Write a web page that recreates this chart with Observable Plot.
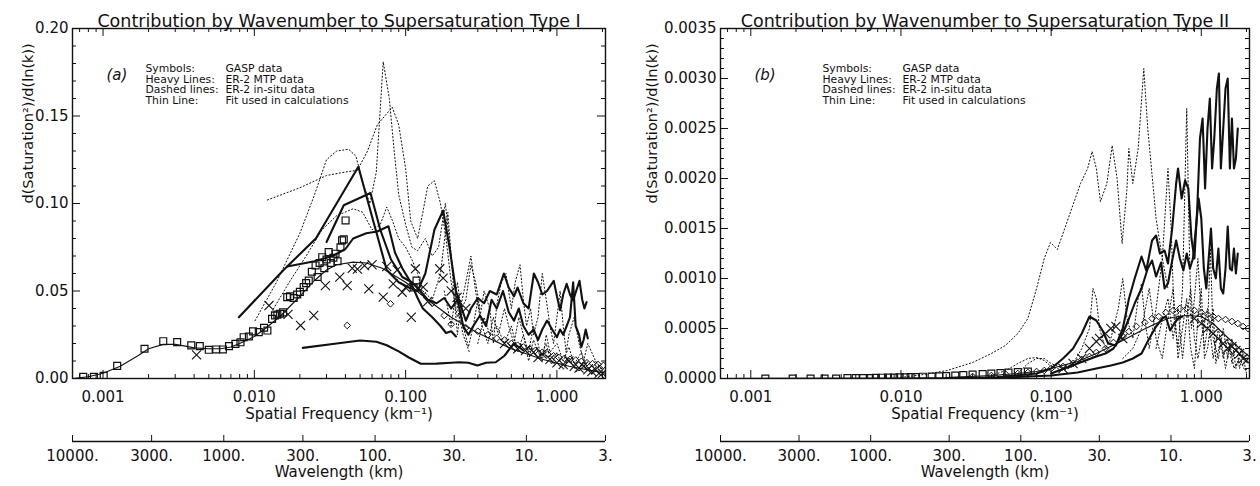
<!DOCTYPE html>
<html><head><meta charset="utf-8">
<script src="https://cdn.jsdelivr.net/npm/d3@7"></script>
<script src="https://cdn.jsdelivr.net/npm/@observablehq/plot@0.6"></script>
<style>
body{margin:0;background:#fff;}
#wrap{position:relative;width:1260px;height:486px;overflow:hidden;}
#wrap svg{position:absolute;}
</style></head><body><div id="wrap"></div>
<script>
// ---------- axis values ----------
const wavelengthTicks = [10000, 3000, 1000, 300, 100, 30, 10, 3];
const kMajor = [0.001, 0.01, 0.1, 1];
const kMinor = [0.0007,0.0008,0.0009,0.002,0.003,0.004,0.005,0.006,0.007,0.008,0.009,
  0.02,0.03,0.04,0.05,0.06,0.07,0.08,0.09,0.2,0.3,0.4,0.5,0.6,0.7,0.8,0.9,2];
const yMajorA = [0, 0.05, 0.10, 0.15, 0.20];
const yMinorA = [0.01,0.02,0.03,0.04,0.06,0.07,0.08,0.09,0.11,0.12,0.13,0.14,0.16,0.17,0.18,0.19];
const yMajorB = [0, 0.0005, 0.0010, 0.0015, 0.0020, 0.0025, 0.0030, 0.0035];
const yMinorB = [0.0001,0.0002,0.0003,0.0004,0.0006,0.0007,0.0008,0.0009,0.0011,0.0012,0.0013,0.0014,
  0.0016,0.0017,0.0018,0.0019,0.0021,0.0022,0.0023,0.0024,0.0026,0.0027,0.0028,0.0029,0.0031,0.0032,0.0033,0.0034];

const titleA = "Contribution by Wavenumber to Supersaturation Type I";
const titleB = "Contribution by Wavenumber to Supersaturation Type II";
const yLabel = "d(Saturation²)/d(ln(k))";
const xLabel = "Spatial Frequency (km⁻¹)";
const wlLabel = "Wavelength (km)";
const legendKeys = "Symbols:\nHeavy Lines:\nDashed lines:\nThin Line:";
const legendVals = "GASP data\nER-2 MTP data\nER-2 in-situ data\nFit used in calculations";

// ---------- panel (a) data: [k (km^-1), value] ----------
const squaresA = [[0.00074,0.001],[0.00087,0.001],[0.00101,0.0015],[0.00124,0.0072],[0.00188,0.017],[0.0025,0.0213],[0.00309,0.0208],[0.00383,0.0189],[0.00436,0.0185],[0.0050,0.0164],[0.0056,0.0166],[0.0062,0.0166],[0.0068,0.0185],[0.0075,0.0198],[0.0081,0.0207],[0.0085,0.0236],[0.0092,0.024],[0.0098,0.0269],[0.0107,0.0265],[0.0116,0.029],[0.0122,0.0274],[0.0131,0.0341],[0.0137,0.036],[0.0142,0.0365],[0.0148,0.037],[0.0155,0.0378],[0.0165,0.0465],[0.0172,0.047],[0.0182,0.046],[0.0192,0.048],[0.0200,0.0495],[0.0212,0.0522],[0.0220,0.0545],[0.0229,0.056],[0.0240,0.061],[0.0254,0.0646],[0.0262,0.058],[0.0270,0.066],[0.0281,0.0693],[0.0290,0.063],[0.0300,0.068],[0.0310,0.0722],[0.0320,0.066],[0.0333,0.069],[0.0344,0.0713],[0.0355,0.067],[0.0371,0.075],[0.0380,0.0789],[0.0390,0.0795],[0.0401,0.0903],[0.113,0.052],[0.118,0.056]];
const crossesA = [[0.00415,0.0135],[0.0125,0.0417],[0.0167,0.0366],[0.0202,0.0303],[0.0247,0.036],[0.0295,0.0531],[0.0367,0.0579],[0.0411,0.0531],[0.0444,0.063],[0.0480,0.0625],[0.0535,0.0645],[0.0571,0.0512],[0.0600,0.065],[0.0711,0.0465],[0.075,0.064],[0.0828,0.0541],[0.088,0.062],[0.0949,0.0493],[0.1,0.052],[0.109,0.035],[0.116,0.0627],[0.1306,0.0522],[0.14,0.044],[0.168,0.0627],[0.177,0.0574],[0.2,0.05],[0.219,0.0463],[0.25,0.04],[0.45,0.02],[0.5,0.018],[0.55,0.017],[0.62,0.016],[0.7,0.015],[0.75,0.012],[0.8,0.014],[0.9,0.011],[1.0,0.009],[1.1,0.008],[1.2,0.01],[1.3,0.007],[1.4,0.006],[1.5,0.007],[1.6,0.005],[1.7,0.004],[1.8,0.005],[1.9,0.003],[2.0,0.003]];
const diamondsA = [[0.0411,0.0303],[0.0794,0.0427],[0.15,0.043],[0.18,0.036],[0.2,0.031],[0.25,0.029],[0.3,0.027],[0.35,0.025],[0.4,0.023],[0.45,0.022],[0.5,0.02],[0.55,0.019],[0.6,0.018],[0.66,0.017],[0.72,0.016],[0.8,0.015],[0.87,0.014],[0.95,0.013],[1.03,0.012],[1.12,0.0115],[1.22,0.011],[1.33,0.0105],[1.45,0.0098],[1.58,0.009],[1.72,0.0085],[1.87,0.008],[2.03,0.0075]];
const fitA = [[0.00063,0.0],[0.0008,0.001],[0.001,0.003],[0.0013,0.007],[0.0017,0.013],[0.002,0.017],[0.0025,0.0195],[0.003,0.0195],[0.0035,0.0185],[0.004,0.0175],[0.005,0.017],[0.006,0.017],[0.007,0.018],[0.008,0.02],[0.01,0.024],[0.012,0.029],[0.015,0.036],[0.02,0.047],[0.025,0.056],[0.03,0.062],[0.035,0.065],[0.045,0.0665],[0.055,0.066],[0.07,0.063],[0.1,0.055],[0.15,0.043],[0.2,0.035],[0.3,0.026],[0.5,0.017],[0.8,0.011],[1.2,0.007],[2.09,0.003]];
const heavyA1 = [[0.0079,0.035],[0.0156,0.062],[0.0255,0.08],[0.0487,0.121],[0.062,0.088],[0.075,0.062],[0.09,0.055],[0.105,0.052],[0.12,0.05],[0.135,0.06],[0.155,0.085],[0.177,0.096],[0.195,0.075],[0.215,0.05],[0.235,0.04],[0.25,0.033],[0.27,0.04],[0.3,0.046],[0.33,0.043],[0.36,0.05],[0.4,0.048],[0.446,0.06],[0.48,0.052],[0.52,0.047],[0.55,0.052],[0.6,0.043],[0.65,0.04],[0.704,0.06],[0.75,0.055],[0.8,0.048],[0.86,0.05],[0.953,0.0558],[1.0,0.047],[1.05,0.039],[1.1,0.048],[1.16,0.0541],[1.22,0.048],[1.28,0.0446],[1.34,0.05],[1.41,0.0558],[1.47,0.045],[1.52,0.04],[1.57,0.0436]];
const heavyA2 = [[0.030,0.078],[0.039,0.099],[0.0586,0.106],[0.068,0.085],[0.08,0.068],[0.095,0.058],[0.11,0.055],[0.125,0.05],[0.14,0.045],[0.16,0.043],[0.18,0.046],[0.2,0.04],[0.22,0.045],[0.24,0.03],[0.26,0.025],[0.28,0.03],[0.31,0.036],[0.34,0.03],[0.37,0.045],[0.4,0.04],[0.44,0.05],[0.48,0.038],[0.52,0.033],[0.56,0.04],[0.6,0.03],[0.65,0.025],[0.7,0.028],[0.75,0.022],[0.8,0.028],[0.861,0.0331],[0.93,0.028],[1.0,0.0236],[1.05,0.028],[1.1,0.025],[1.16,0.03],[1.22,0.035],[1.28,0.055],[1.33,0.03],[1.4,0.025],[1.45,0.018],[1.5,0.022],[1.55,0.028],[1.6,0.0229]];
const heavyA3 = [[0.0165,0.064],[0.025,0.067],[0.033,0.07],[0.04,0.074],[0.045,0.08],[0.055,0.083],[0.065,0.084],[0.077,0.087],[0.085,0.072],[0.095,0.063],[0.108,0.055],[0.12,0.046],[0.13,0.04],[0.15,0.035],[0.17,0.03],[0.185,0.026],[0.2,0.027],[0.215,0.024]];
const heavyA4 = [[0.0209,0.0175],[0.035,0.02],[0.05,0.0217],[0.0641,0.021],[0.075,0.019],[0.09,0.0155],[0.105,0.012],[0.126,0.0084],[0.16,0.0085],[0.2,0.009],[0.226,0.0093],[0.26,0.009],[0.298,0.0074],[0.34,0.009],[0.394,0.0093],[0.45,0.013],[0.519,0.02],[0.56,0.018],[0.6,0.016]];
const dottedA1 = [[0.0101,0.033],[0.014,0.055],[0.02,0.083],[0.025,0.105],[0.03,0.125],[0.035,0.13],[0.042,0.131],[0.047,0.127],[0.052,0.112],[0.058,0.1],[0.064,0.118],[0.0711,0.181],[0.078,0.16],[0.084,0.13],[0.09,0.105],[0.1,0.088],[0.11,0.075],[0.12,0.073],[0.135,0.08],[0.15,0.07],[0.165,0.075],[0.183,0.1],[0.2,0.07],[0.22,0.04],[0.24,0.025],[0.264,0.015]];
const dottedA2 = [[0.0122,0.102],[0.02,0.109],[0.03,0.116],[0.04,0.118],[0.048,0.119],[0.056,0.13],[0.065,0.145],[0.0815,0.155],[0.09,0.145],[0.1,0.12],[0.108,0.09],[0.12,0.08],[0.13,0.095],[0.14,0.11],[0.155,0.113],[0.17,0.1],[0.185,0.08],[0.2,0.055],[0.22,0.035],[0.25,0.045],[0.27,0.065],[0.29,0.055],[0.31,0.04]];
const dottedA3 = [[0.013,0.038],[0.017,0.055],[0.022,0.07],[0.028,0.085],[0.035,0.093],[0.045,0.097],[0.052,0.095],[0.06,0.085],[0.068,0.088],[0.075,0.098],[0.082,0.09],[0.09,0.08],[0.1,0.075],[0.11,0.068],[0.12,0.06],[0.13,0.048],[0.14,0.05]];
const dottedA4 = [[0.13,0.05],[0.15,0.045],[0.17,0.06],[0.19,0.095],[0.2,0.07],[0.21,0.045],[0.22,0.025],[0.23,0.04],[0.25,0.055],[0.27,0.07],[0.29,0.05],[0.31,0.035],[0.33,0.05],[0.36,0.04],[0.38,0.02],[0.4,0.042],[0.43,0.055],[0.46,0.06],[0.5,0.04],[0.53,0.055],[0.57,0.065],[0.6,0.045],[0.63,0.03],[0.67,0.04],[0.7,0.025],[0.75,0.035],[0.8,0.06],[0.85,0.045],[0.9,0.03],[0.95,0.02],[1.0,0.035],[1.05,0.05],[1.1,0.03],[1.15,0.015],[1.2,0.025],[1.3,0.035],[1.4,0.02],[1.5,0.01],[1.6,0.02],[1.8,0.01],[2.0,0.005]];
const dottedA5 = [[0.18,0.05],[0.2,0.03],[0.22,0.055],[0.24,0.03],[0.26,0.018],[0.28,0.03],[0.3,0.045],[0.32,0.03],[0.35,0.02],[0.38,0.035],[0.41,0.025],[0.45,0.04],[0.48,0.03],[0.52,0.02],[0.56,0.035],[0.6,0.025],[0.65,0.015],[0.7,0.03],[0.75,0.02],[0.8,0.01],[0.85,0.025],[0.9,0.015],[1.0,0.02],[1.1,0.01],[1.2,0.018],[1.3,0.008],[1.45,0.015],[1.6,0.005],[1.8,0.01],[2.05,0.003]];
const dottedA6 = [[0.3,0.02],[0.33,0.035],[0.36,0.025],[0.4,0.03],[0.45,0.02],[0.5,0.03],[0.55,0.015],[0.6,0.025],[0.65,0.01],[0.7,0.022],[0.78,0.012],[0.85,0.02],[0.92,0.008],[1.0,0.015],[1.1,0.005],[1.2,0.012],[1.35,0.004],[1.5,0.01],[1.7,0.003],[2.0,0.006]];

// ---------- panel (b) data ----------
const squaresB = [[0.00125,0],[0.0019,0],[0.0025,0],[0.0031,0],[0.0037,0],[0.0044,0.000005],[0.005,0.000005],[0.0056,0.000005],[0.0062,0.000005],[0.0068,0.000006],[0.0075,0.000008],[0.0082,0.00001],[0.009,0.00001],[0.0098,0.000012],[0.0107,0.000012],[0.0116,0.000015],[0.0125,0.000015],[0.014,0.000018],[0.016,0.00002],[0.018,0.000022],[0.02,0.000025],[0.023,0.00003],[0.026,0.000035],[0.03,0.00004],[0.035,0.000045],[0.04,0.00005],[0.046,0.000055],[0.052,0.00006],[0.06,0.000065],[0.07,0.00007]];
const crossesB = [[0.12,0.0001],[0.14,0.00015],[0.16,0.0002],[0.18,0.0003],[0.2,0.00037],[0.21,0.0004],[0.23,0.00045],[0.25,0.0005],[0.27,0.00052],[0.3,0.0004],[0.9,0.0006],[1.0,0.00055],[1.1,0.0005],[1.2,0.00045],[1.3,0.0004],[1.4,0.00035],[1.5,0.0003],[1.6,0.00032],[1.7,0.00028],[1.8,0.00025],[1.9,0.0002],[2.0,0.00018]];
const diamondsB = [[0.03,0.00002],[0.04,0.00003],[0.05,0.00004],[0.06,0.00005],[0.07,0.00006],[0.08,0.00007],[0.09,0.00008],[0.1,0.0001],[0.12,0.00012],[0.14,0.00015],[0.16,0.00019],[0.18,0.00022],[0.2,0.00026],[0.23,0.0003],[0.26,0.00036],[0.3,0.00042],[0.33,0.00047],[0.37,0.00052],[0.42,0.00056],[0.47,0.0006],[0.52,0.00062],[0.58,0.00066],[0.65,0.00068],[0.72,0.0007],[0.8,0.0007],[0.9,0.00068],[1.0,0.00066],[1.1,0.00064],[1.2,0.00062],[1.3,0.0006],[1.45,0.00059],[1.6,0.00057],[1.75,0.00055],[1.9,0.00052],[2.05,0.0005]];
const fitB = [[0.00063,0],[0.01,0.000005],[0.02,0.00001],[0.04,0.00003],[0.06,0.00005],[0.08,0.00007],[0.1,0.0001],[0.15,0.00017],[0.2,0.00025],[0.3,0.00038],[0.4,0.00048],[0.5,0.00055],[0.6,0.0006],[0.7,0.00062],[0.8,0.00063],[1.0,0.00062],[1.2,0.00055],[1.4,0.00045],[1.6,0.00037],[1.8,0.0003],[2.09,0.00022]];
const heavyB1 = [[0.05,0.00002],[0.08,0.00005],[0.1,0.0001],[0.12,0.0002],[0.14,0.0003],[0.16,0.00045],[0.18,0.00062],[0.2,0.00058],[0.22,0.00048],[0.24,0.00035],[0.27,0.00033],[0.3,0.0005],[0.33,0.0008],[0.36,0.001],[0.4,0.00122],[0.43,0.00108],[0.47,0.00138],[0.5,0.00143],[0.53,0.00125],[0.57,0.00128],[0.6,0.00115],[0.64,0.0015],[0.68,0.00195],[0.7,0.0021],[0.74,0.0018],[0.78,0.00198],[0.82,0.0019],[0.86,0.0014],[0.9,0.0012],[0.94,0.0017],[0.98,0.0024],[1.02,0.0026],[1.06,0.0019],[1.1,0.0025],[1.14,0.0028],[1.18,0.0021],[1.22,0.0024],[1.27,0.0029],[1.31,0.00305],[1.35,0.0021],[1.4,0.0025],[1.45,0.0029],[1.5,0.003],[1.55,0.0021],[1.6,0.0026],[1.65,0.0021],[1.7,0.0022],[1.75,0.0025]];
const heavyB2 = [[0.1,0.00005],[0.15,0.00015],[0.2,0.00022],[0.23,0.00025],[0.26,0.0003],[0.3,0.00045],[0.33,0.0006],[0.36,0.00075],[0.4,0.0009],[0.44,0.0011],[0.47,0.00118],[0.5,0.00102],[0.54,0.00116],[0.57,0.0009],[0.6,0.00095],[0.64,0.00118],[0.68,0.00138],[0.72,0.0012],[0.76,0.00108],[0.8,0.00125],[0.84,0.0011],[0.88,0.0012],[0.92,0.0015],[0.96,0.0018],[1.0,0.0016],[1.04,0.0011],[1.08,0.0009],[1.12,0.0012],[1.16,0.0015],[1.2,0.0011],[1.25,0.001],[1.3,0.0013],[1.35,0.0009],[1.4,0.00085],[1.45,0.0011],[1.5,0.00152],[1.55,0.0011],[1.6,0.00108],[1.65,0.0013],[1.7,0.00105],[1.75,0.00125]];
const heavyB3 = [[0.02,0.000005],[0.05,0.00001],[0.1,0.00003],[0.15,0.00006],[0.2,0.0001],[0.25,0.00013],[0.3,0.00016],[0.35,0.0002],[0.4,0.00025],[0.45,0.0004],[0.5,0.00052],[0.55,0.0006],[0.58,0.00062],[0.62,0.00048],[0.66,0.00055],[0.7,0.0006],[0.75,0.00062]];
const dottedB1 = [[0.01,0.00001],[0.0142,0.00004],[0.0203,0.00008],[0.03,0.00016],[0.04,0.00025],[0.0496,0.00033],[0.06,0.00045],[0.07,0.0006],[0.08,0.0009],[0.09,0.0012],[0.099,0.00136],[0.11,0.00129],[0.13,0.0016],[0.157,0.00195],[0.175,0.0021],[0.1875,0.00227],[0.2,0.0021],[0.213,0.00177],[0.235,0.00195],[0.255,0.00233],[0.275,0.002],[0.297,0.00135],[0.32,0.0019],[0.329,0.0023],[0.35,0.00195],[0.38,0.0023],[0.414,0.0031],[0.44,0.0025],[0.5,0.0016],[0.55,0.0012],[0.6,0.0009]];
const dottedB2 = [[0.06,0.00005],[0.07,0.00015],[0.08,0.0002],[0.09,0.0002],[0.1,0.00015],[0.12,0.0001],[0.14,0.00015],[0.16,0.0003],[0.18,0.0005],[0.19,0.0009],[0.2,0.0008],[0.21,0.0005],[0.23,0.0003],[0.25,0.0004],[0.28,0.0007],[0.3,0.001],[0.32,0.0006],[0.35,0.0004],[0.38,0.0008],[0.4,0.00095],[0.42,0.0006],[0.45,0.0003],[0.5,0.0007],[0.55,0.0012],[0.6,0.0021],[0.63,0.0015],[0.66,0.0006],[0.7,0.0003],[0.75,0.0009],[0.8,0.0027],[0.83,0.0014],[0.86,0.0005],[0.9,0.0008],[0.95,0.0012],[1.0,0.0006],[1.05,0.0003],[1.1,0.0005],[1.15,0.0013],[1.2,0.0004],[1.3,0.0002],[1.4,0.0005],[1.5,0.0002],[1.6,0.0004],[1.7,0.0001],[1.85,0.0003],[2.0,0.00005]];
const dottedB3 = [[0.3,0.0002],[0.35,0.0003],[0.4,0.0005],[0.45,0.0009],[0.5,0.0004],[0.55,0.0002],[0.6,0.0006],[0.65,0.0009],[0.7,0.0002],[0.75,0.0005],[0.8,0.0008],[0.85,0.0003],[0.9,0.0001],[0.95,0.0006],[1.0,0.0009],[1.05,0.0002],[1.1,0.0003],[1.2,0.0007],[1.25,0.00015],[1.35,0.0004],[1.45,0.0001],[1.55,0.00035],[1.65,0.0001],[1.8,0.0002],[1.95,0.00008],[2.05,0.0001]];
const dottedB4 = [[0.5,0.0003],[0.55,0.0006],[0.6,0.0008],[0.65,0.0004],[0.7,0.0007],[0.75,0.0002],[0.8,0.0006],[0.85,0.0009],[0.9,0.0004],[0.95,0.0002],[1.0,0.0004],[1.1,0.0007],[1.2,0.0002],[1.3,0.0005],[1.4,0.0002],[1.5,0.0004],[1.6,0.00015],[1.7,0.00035],[1.8,0.0001],[1.9,0.00025],[2.05,0.0002]];
const dottedB5 = [[0.04,0.00003],[0.05,0.00008],[0.06,0.00015],[0.07,0.0002],[0.08,0.00021],[0.09,0.00018],[0.1,0.00012],[0.12,0.00008],[0.14,0.00012]];

// ---------- drawing ----------
const FONT = "DejaVu Sans";
const INK = "#111";
const kDomain = [2 * Math.PI / 10000, 2 * Math.PI / 3];
const FRAME_TOP = 28, FRAME_BOTTOM = 378, MAIN_H = 432;
const FRAME_H = FRAME_BOTTOM - FRAME_TOP;
const MAJOR = 8, MINOR = 4;

function panel(o) {
  const W = 630 - o.ml - o.mr;
  const xy = {x: d => d[0], y: d => d[1], clip: true};
  const tk = {stroke: INK, strokeWidth: 1};
  const marks = [];
  for (const s of o.dotted) marks.push(Plot.line(s, {...xy, stroke: INK, strokeWidth: 1, strokeDasharray: "1.2 2.3"}));
  marks.push(Plot.line(o.fit, {...xy, stroke: INK, strokeWidth: 1.1}));
  for (const s of o.heavy) marks.push(Plot.line(s, {...xy, stroke: INK, strokeWidth: 2.1, strokeLinejoin: "round"}));
  marks.push(Plot.dot(o.squares, {...xy, symbol: "square", r: 3.9, stroke: INK, strokeWidth: 1.2}));
  marks.push(Plot.dot(o.crosses, {...xy, symbol: "times", r: 4.2, stroke: INK, strokeWidth: 1.1}));
  marks.push(Plot.dot(o.diamonds, {...xy, symbol: "diamond2", r: 3, stroke: INK, strokeWidth: 1}));
  marks.push(Plot.frame({stroke: INK, strokeWidth: 1.4}));
  // inward ticks on all four sides
  marks.push(Plot.tickX(kMajor, {x: d => d, insetTop: FRAME_H - MAJOR, ...tk}));
  marks.push(Plot.tickX(kMinor, {x: d => d, insetTop: FRAME_H - MINOR, ...tk}));
  marks.push(Plot.tickX(kMajor, {x: d => d, insetBottom: FRAME_H - MAJOR, ...tk}));
  marks.push(Plot.tickX(kMinor, {x: d => d, insetBottom: FRAME_H - MINOR, ...tk}));
  marks.push(Plot.tickY(o.yMajor, {y: d => d, insetRight: W - MAJOR, ...tk}));
  marks.push(Plot.tickY(o.yMinor, {y: d => d, insetRight: W - MINOR, ...tk}));
  marks.push(Plot.tickY(o.yMajor, {y: d => d, insetLeft: W - MAJOR, ...tk}));
  marks.push(Plot.tickY(o.yMinor, {y: d => d, insetLeft: W - MINOR, ...tk}));
  // tick labels
  marks.push(Plot.axisX({anchor: "bottom", ticks: kMajor, tickSize: 0, tickPadding: 13, tickFormat: d3.format(".3f"), label: null, fontSize: 15}));
  marks.push(Plot.axisY({anchor: "left", ticks: o.yMajor, tickSize: 0, tickPadding: 4, tickFormat: d3.format(o.yFmt), label: null, fontSize: 15}));
  // titles and annotations
  marks.push(Plot.text([o.title], {text: d => d, frameAnchor: "top", dy: -14, fontSize: 17.5, fill: INK}));
  marks.push(Plot.text([xLabel], {text: d => d, frameAnchor: "bottom", dy: 40, fontSize: 15, fill: INK}));
  marks.push(Plot.text([yLabel], {text: d => d, frameAnchor: "left", dx: o.yLabelDx, rotate: -90, fontSize: 14.5, fill: INK}));
  marks.push(Plot.text([o.tag], {text: d => d, frameAnchor: "top-left", dx: o.tagDx, dy: 41, fontSize: 15, fontStyle: "italic", fill: INK}));
  marks.push(Plot.text([legendKeys], {text: d => d, frameAnchor: "top-left", textAnchor: "start", lineAnchor: "top", dx: o.legDx, dy: 36, fontSize: 10.8, lineHeight: 0.98, fill: INK}));
  marks.push(Plot.text([legendVals], {text: d => d, frameAnchor: "top-left", textAnchor: "start", lineAnchor: "top", dx: o.legDx + 80, dy: 36, fontSize: 10.8, lineHeight: 0.98, fill: INK}));

  return Plot.plot({
    width: 630, height: MAIN_H,
    marginLeft: o.ml, marginRight: o.mr, marginTop: FRAME_TOP, marginBottom: MAIN_H - FRAME_BOTTOM,
    x: {type: "log", domain: kDomain},
    y: {domain: [o.yMajor[0], o.yMajor[o.yMajor.length - 1]]},
    style: {fontFamily: FONT, fontSize: "14px", color: INK, background: "transparent", overflow: "visible"},
    marks
  });
}

function wavelengthAxis(ml, mr) {
  return Plot.plot({
    width: 630, height: 56,
    marginLeft: ml, marginRight: mr, marginTop: 5, marginBottom: 45,
    x: {type: "log", domain: [wavelengthTicks[0], wavelengthTicks[wavelengthTicks.length - 1]], axis: null},
    y: {domain: [0, 1], axis: null},
    style: {fontFamily: FONT, fontSize: "14px", color: INK, background: "transparent", overflow: "visible"},
    marks: [
      Plot.ruleY([0], {stroke: INK, strokeWidth: 1.3}),
      Plot.tickX(wavelengthTicks, {x: d => d, stroke: INK, strokeWidth: 1}),
      Plot.text(wavelengthTicks, {x: d => d, text: d => d + ".", frameAnchor: "bottom", dy: 19, fontSize: 15, fill: INK}),
      Plot.text([wlLabel], {text: d => d, frameAnchor: "bottom", dy: 35, fontSize: 15, fill: INK})
    ]
  });
}

const wrap = document.getElementById("wrap");
function place(svg, left, top) { svg.style.left = left + "px"; svg.style.top = top + "px"; wrap.appendChild(svg); }

place(panel({
  title: titleA, tag: "(a)", tagDx: 34, legDx: 73, yLabelDx: -44, ml: 72, mr: 25,
  yMajor: yMajorA, yMinor: yMinorA, yFmt: ".2f",
  squares: squaresA, crosses: crossesA, diamonds: diamondsA, fit: fitA,
  heavy: [heavyA1, heavyA2, heavyA3, heavyA4],
  dotted: [dottedA1, dottedA2, dottedA3, dottedA4, dottedA5, dottedA6]
}), 0, 0);
place(panel({
  title: titleB, tag: "(b)", tagDx: 34, legDx: 102, yLabelDx: -68, ml: 90, mr: 11,
  yMajor: yMajorB, yMinor: yMinorB, yFmt: ".4f",
  squares: squaresB, crosses: crossesB, diamonds: diamondsB, fit: fitB,
  heavy: [heavyB1, heavyB2, heavyB3],
  dotted: [dottedB1, dottedB2, dottedB3, dottedB4, dottedB5]
}), 630, 0);
place(wavelengthAxis(72, 25), 0, 430);
place(wavelengthAxis(90, 11), 630, 430);
</script></body></html>
